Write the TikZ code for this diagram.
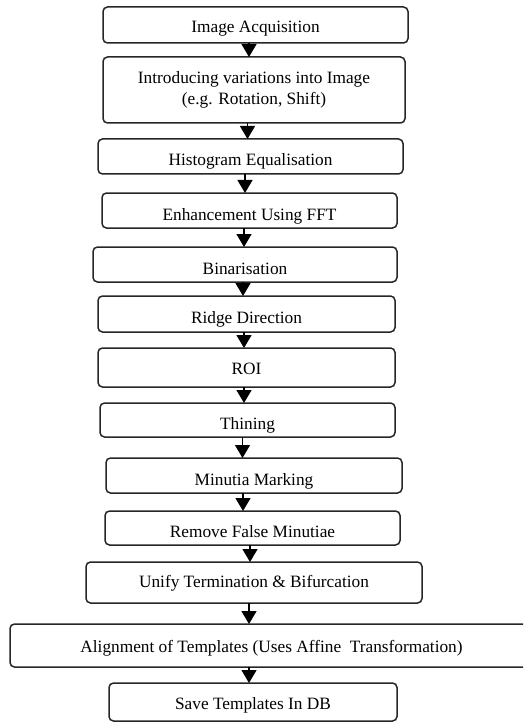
\documentclass[tikz,border=0pt]{standalone}
\usepackage{fontspec}
\setmainfont{Liberation Serif}
\usetikzlibrary{arrows.meta}
\tikzset{
  stepbox/.style={draw=black!85, line width=1.5pt, rounded corners=4.5pt, inner sep=0pt, outer sep=0pt,
    font=\fontsize{17.3}{21}\selectfont, text height=11pt, text depth=0pt},
  twoline/.style={draw=black!85, line width=1.5pt, rounded corners=4.5pt, inner sep=0pt, outer sep=0pt,
    font=\fontsize{17.3}{21.5}\selectfont, align=center},
  arr/.style={line width=1.4pt, -{Triangle[width=15pt,length=13pt]}}
}
\newcommand{\lowtext}[1]{\raisebox{-4pt}{#1}}
\begin{document}
\begin{tikzpicture}[x=1pt,y=-1pt]
\useasboundingbox (0,0) rectangle (523,722);
\clip (0,0) rectangle (523,722);
\node[stepbox, minimum width=305pt, minimum height=36pt] (b1) at (255.5,25) {\raisebox{-2pt}{Image Acquisition}};
\node[twoline, minimum width=302pt, minimum height=66pt] (b2) at (254,90) {Introducing variations into Image\\(e.g. Rotation, Shift)};
\node[stepbox, minimum width=305pt, minimum height=35pt] (b3) at (250.5,156.5) {\lowtext{Histogram Equalisation}};
\node[stepbox, minimum width=295pt, minimum height=35pt] (b4) at (249.5,210.5) {\lowtext{Enhancement Using FFT}};
\node[stepbox, minimum width=304pt, minimum height=35pt] (b5) at (245,264.5) {\lowtext{Binarisation}};
\node[stepbox, minimum width=297pt, minimum height=36pt] (b6) at (246.5,314) {\lowtext{Ridge Direction}};
\node[stepbox, minimum width=297pt, minimum height=39pt] (b7) at (246.5,367.5) {\raisebox{-1pt}{ROI}};
\node[stepbox, minimum width=295pt, minimum height=34pt] (b8) at (247.5,420) {\lowtext{Thining}};
\node[stepbox, minimum width=296pt, minimum height=35pt] (b9) at (254,475.5) {\lowtext{Minutia Marking}};
\node[stepbox, minimum width=295pt, minimum height=34pt] (b10) at (252.5,528) {\lowtext{Remove False Minutiae}};
\node[stepbox, minimum width=336pt, minimum height=41pt] (b11) at (254,582.5) {\raisebox{1pt}{Unify Termination \& Bifurcation}};
\node[stepbox, minimum width=523pt, minimum height=43pt] (b12) at (271.5,645.5) {\raisebox{-1pt}{Alignment of Templates (Uses Affine~~Transformation)}};
\node[stepbox, minimum width=288pt, minimum height=38pt] (b13) at (253,702) {\raisebox{-1.5pt}{Save Templates In DB}};
\draw[arr] (b1.south -| 249,0) -- (b2.north -| 249,0);
\draw[arr] (b2.south -| 247.5,0) -- (b3.north -| 247.5,0);
\draw[arr] (b3.south -| 245,0) -- (b4.north -| 245,0);
\draw[arr] (b4.south -| 244,0) -- (b5.north -| 244,0);
\draw[arr] (b5.south -| 243,0) -- (b6.north -| 243,0);
\draw[arr] (b6.south -| 244,0) -- (b7.north -| 244,0);
\draw[arr] (b7.south -| 244,0) -- (b8.north -| 244,0);
\draw[arr] (b8.south -| 242.5,0) -- (b9.north -| 242.5,0);
\draw[arr] (b9.south -| 243,0) -- (b10.north -| 243,0);
\draw[arr] (b10.south -| 250,0) -- (b11.north -| 250,0);
\draw[arr] (b11.south -| 249,0) -- (b12.north -| 249,0);
\draw[arr] (b12.south -| 249,0) -- (b13.north -| 249,0);
\end{tikzpicture}
\end{document}
